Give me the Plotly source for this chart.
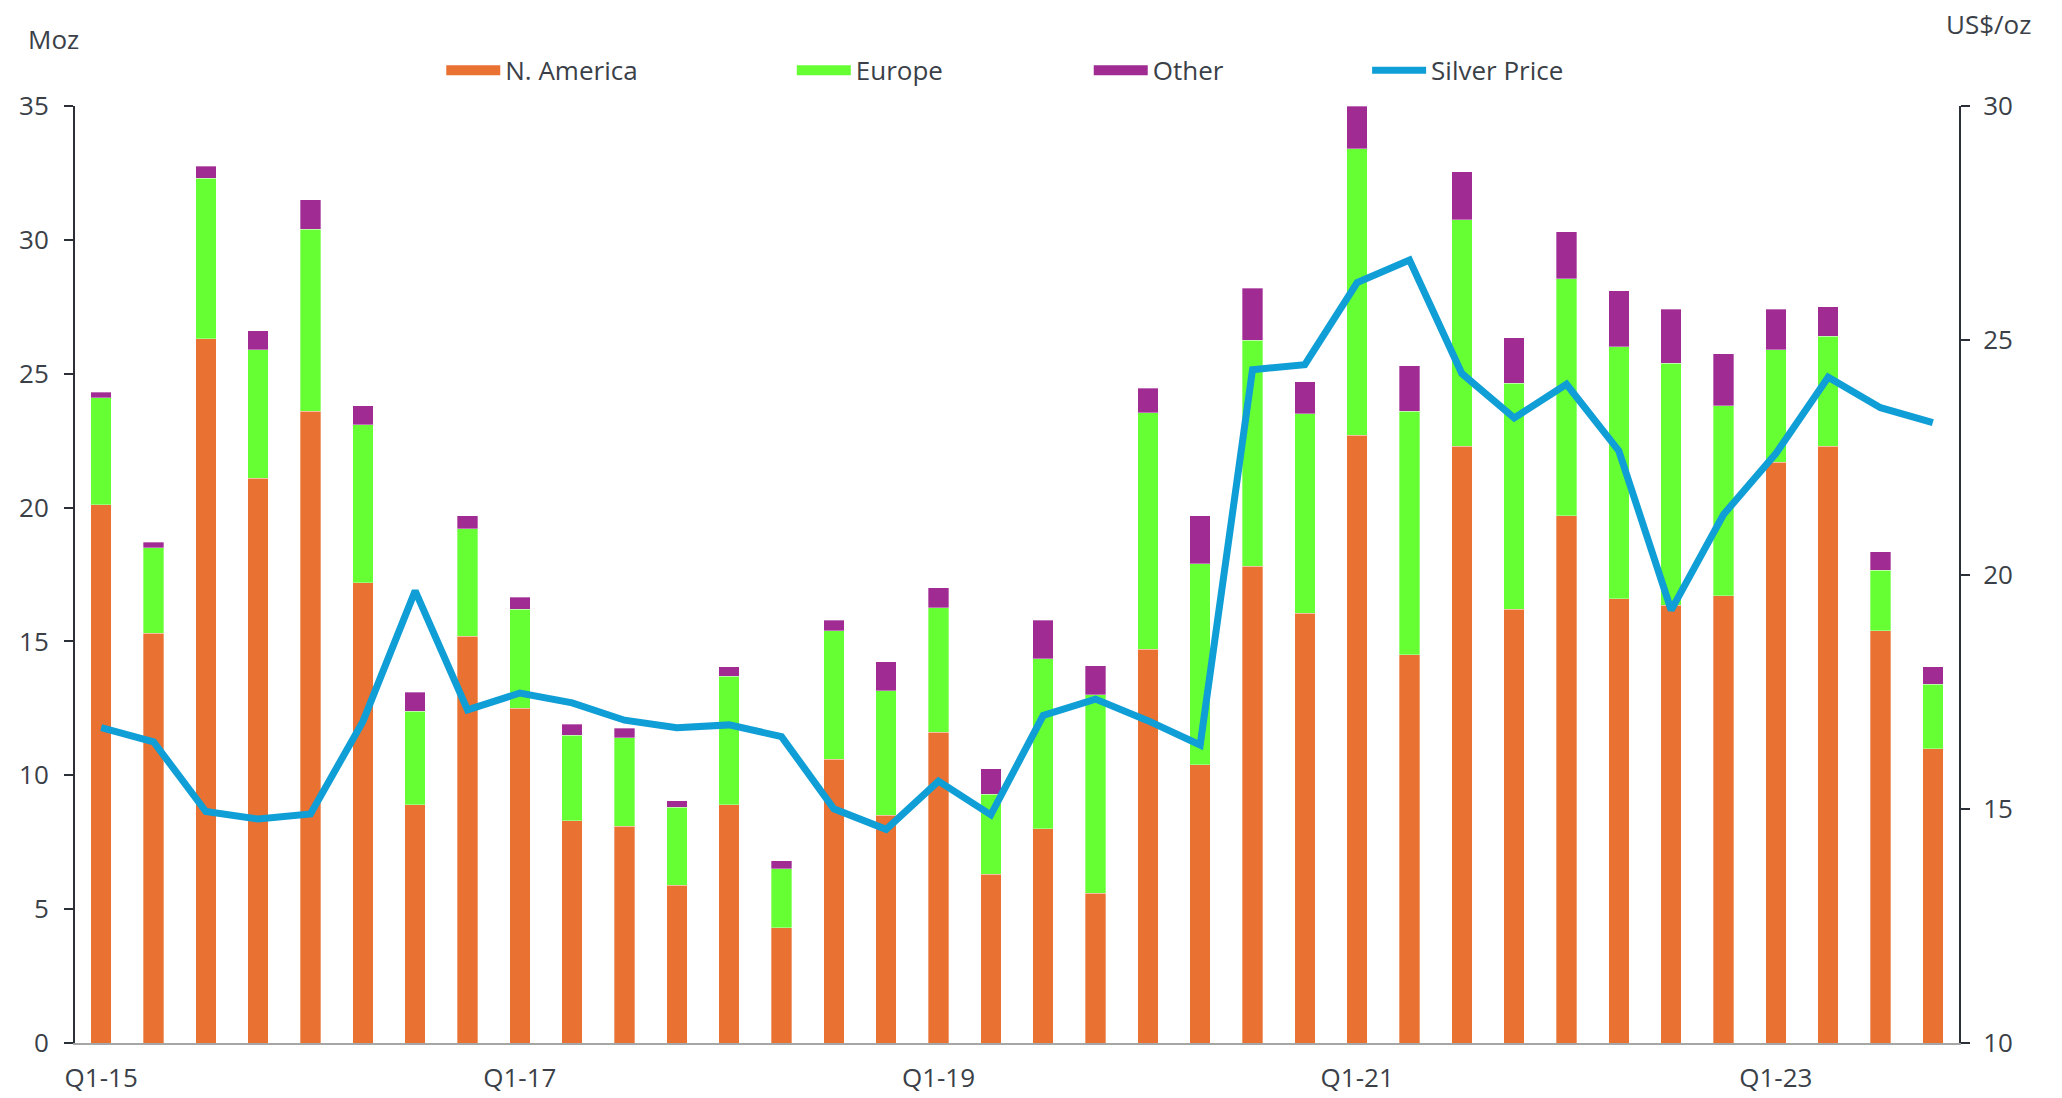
import plotly.graph_objects as go

# Quarterly silver demand by region (Moz) and average silver price (US$/oz)
quarters = [f"Q{q}-{y}" for y in range(15, 24) for q in range(1, 5)]

north_america = [20.1, 15.3, 26.3, 21.1, 23.6, 17.2, 8.9, 15.2,
                 12.5, 8.3, 8.1, 5.9, 8.9, 4.3, 10.6, 8.5,
                 11.6, 6.3, 8.0, 5.6, 14.7, 10.4, 17.8, 16.05,
                 22.7, 14.5, 22.3, 16.2, 19.7, 16.6, 16.35, 16.7,
                 21.7, 22.3, 15.4, 11.0]

europe = [4.0, 3.2, 6.0, 4.8, 6.8, 5.9, 3.5, 4.0,
          3.7, 3.2, 3.3, 2.9, 4.8, 2.2, 4.8, 4.65,
          4.65, 3.0, 6.35, 7.4, 8.85, 7.5, 8.45, 7.45,
          10.7, 9.1, 8.45, 8.45, 8.85, 9.4, 9.05, 7.1,
          4.2, 4.1, 2.25, 2.4]

other = [0.2, 0.2, 0.45, 0.7, 1.1, 0.7, 0.7, 0.5,
         0.45, 0.4, 0.35, 0.25, 0.35, 0.3, 0.4, 1.1,
         0.75, 0.95, 1.45, 1.1, 0.9, 1.8, 1.95, 1.2,
         1.6, 1.7, 1.8, 1.7, 1.75, 2.1, 2.0, 1.95,
         1.5, 1.1, 0.7, 0.65]

silver_price = [16.73, 16.43, 14.94, 14.78, 14.89, 16.86, 19.65, 17.11,
                17.47, 17.26, 16.89, 16.73, 16.79, 16.54, 15.00, 14.56,
                15.59, 14.87, 16.99, 17.34, 16.88, 16.36, 24.37, 24.48,
                26.23, 26.71, 24.29, 23.34, 24.06, 22.64, 19.24, 21.28,
                22.58, 24.21, 23.56, 23.24]

x_tick_labels = ["Q1-15", "Q1-17", "Q1-19", "Q1-21", "Q1-23"]
left_ticks = [0, 5, 10, 15, 20, 25, 30, 35]
right_ticks = [10, 15, 20, 25, 30]

ORANGE = "#E97132"
GREEN = "#66FF33"
PURPLE = "#A02B93"
BLUE = "#0F9ED5"
TEXT = "#3B3F48"
FONT = "Open Sans"
FSIZE = 26

fig = go.Figure()

bar_series = [("N. America", north_america, ORANGE, "legend"),
              ("Europe", europe, GREEN, "legend2"),
              ("Other", other, PURPLE, "legend3")]

for name, vals, colour, leg in bar_series:
    fig.add_trace(go.Bar(
        x=quarters, y=vals, name=name, marker_color=colour,
        marker_line=dict(width=0.6, color="rgba(255,255,255,0.55)"),
        showlegend=False, legendgroup=name, yaxis="y",
    ))
    # wide rectangular key for the legend
    fig.add_trace(go.Scatter(
        x=[None], y=[None], mode="lines", name=name,
        line=dict(color=colour, width=15), legendgroup=name,
        legend=leg, hoverinfo="skip",
    ))

fig.add_trace(go.Scatter(
    x=quarters, y=silver_price, name="Silver Price", mode="lines",
    line=dict(color=BLUE, width=7), yaxis="y2", legend="legend4",
))

legend_common = dict(
    orientation="h", xref="container", yref="container",
    xanchor="left", yanchor="middle", y=0.936,
    font=dict(family=FONT, size=FSIZE, color=TEXT),
    bgcolor="rgba(0,0,0,0)", itemwidth=54, tracegroupgap=0,
)

fig.update_layout(
    width=2062, height=1098,
    paper_bgcolor="white", plot_bgcolor="white",
    margin=dict(l=75, r=103, t=106, b=55, autoexpand=False),
    barmode="stack", bargap=0.61,
    font=dict(family=FONT, size=FSIZE, color=TEXT),
    showlegend=True,
    legend=dict(legend_common, x=0.214),
    legend2=dict(legend_common, x=0.384),
    legend3=dict(legend_common, x=0.528),
    legend4=dict(legend_common, x=0.663),
    xaxis=dict(
        type="category", categoryorder="array", categoryarray=quarters,
        tickmode="array", tickvals=x_tick_labels, ticktext=x_tick_labels,
        showline=True, linecolor="#A6A6A6", linewidth=1.5,
        ticks="", showgrid=False, zeroline=False,
        tickfont=dict(family=FONT, size=FSIZE, color=TEXT),
        ticklabelstandoff=11, automargin=False,
        range=[-0.5, 35.5],
    ),
    yaxis=dict(
        range=[0, 35], tickvals=left_ticks, showgrid=False, zeroline=False,
        showline=True, linecolor="#2B2F38", linewidth=2,
        ticks="outside", ticklen=9, tickwidth=2, tickcolor="#2B2F38",
        tickfont=dict(family=FONT, size=FSIZE, color=TEXT),
        ticklabelstandoff=10, automargin=False,
    ),
    yaxis2=dict(
        range=[10, 30], tickvals=right_ticks, overlaying="y", side="right",
        showgrid=False, zeroline=False,
        showline=True, linecolor="#2B2F38", linewidth=2,
        ticks="outside", ticklen=9, tickwidth=2, tickcolor="#2B2F38",
        tickfont=dict(family=FONT, size=FSIZE, color=TEXT),
        ticklabelstandoff=8, automargin=False,
    ),
    annotations=[
        dict(text="Moz", xref="paper", yref="paper", x=-0.026, y=1.071,
             xanchor="left", yanchor="middle", showarrow=False,
             font=dict(family=FONT, size=FSIZE, color=TEXT)),
        dict(text="US$/oz", xref="paper", yref="paper", x=0.992, y=1.088,
             xanchor="left", yanchor="middle", showarrow=False,
             font=dict(family=FONT, size=FSIZE, color=TEXT)),
    ],
)

fig.write_html("out.html")
